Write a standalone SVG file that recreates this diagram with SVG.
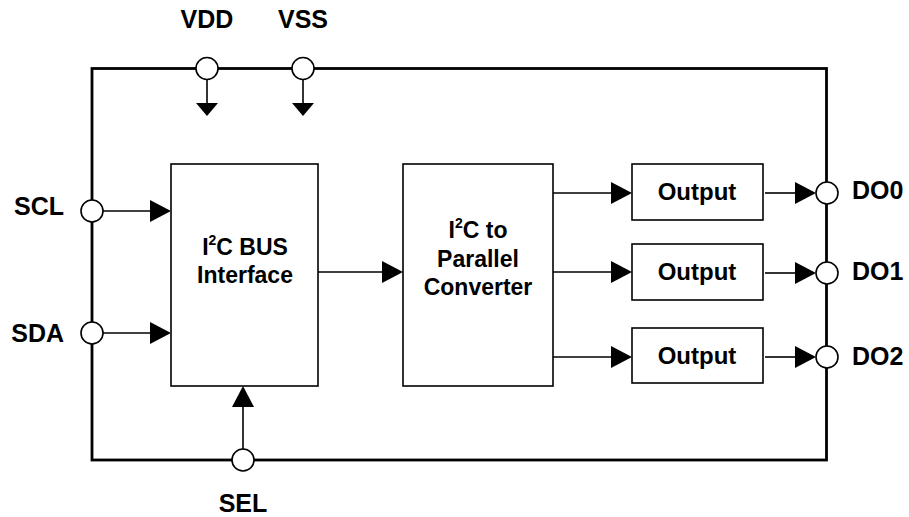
<svg xmlns="http://www.w3.org/2000/svg" width="909" height="517" viewBox="0 0 909 517">
<defs>
<style>
text{font-family:"Liberation Sans",Arial,sans-serif;font-weight:bold;font-size:23px;fill:#000}
.lbl{font-size:25px}
.out{font-size:24px}
.box{fill:#fff;stroke:#000;stroke-width:1.6}
.pin{fill:#fff;stroke:#000;stroke-width:1.6}
.ln{stroke:#000;stroke-width:1.6;fill:none}
.ah{fill:#000;stroke:none}
</style>
</defs>
<rect width="909" height="517" fill="#fff"/>
<g id="chip">
<rect x="92" y="68.5" width="734.5" height="391.5" fill="none" stroke="#000" stroke-width="2.8"/>
</g>
<g id="connectors">
<line class="ln" x1="207" y1="79" x2="207" y2="104"/>
<polygon class="ah" points="196,103 218,103 207,116"/>
<line class="ln" x1="303" y1="79" x2="303" y2="104"/>
<polygon class="ah" points="292,103 314,103 303,116"/>
<line class="ln" x1="103" y1="211" x2="152" y2="211"/>
<polygon class="ah" points="150,200 171,211 150,222"/>
<line class="ln" x1="103" y1="333" x2="152" y2="333"/>
<polygon class="ah" points="150,322 171,333 150,344"/>
<line class="ln" x1="243" y1="449" x2="243" y2="405"/>
<polygon class="ah" points="232,407 254,407 243,386"/>
<line class="ln" x1="318" y1="272" x2="384" y2="272"/>
<polygon class="ah" points="382,261 403,272 382,283"/>
<line class="ln" x1="553" y1="193" x2="613" y2="193"/>
<polygon class="ah" points="611,182 632,193 611,204"/>
<line class="ln" x1="553" y1="272" x2="613" y2="272"/>
<polygon class="ah" points="611,261 632,272 611,283"/>
<line class="ln" x1="553" y1="357" x2="613" y2="357"/>
<polygon class="ah" points="611,346 632,357 611,368"/>
<line class="ln" x1="765" y1="193" x2="797" y2="193"/>
<polygon class="ah" points="795,182 816,193 795,204"/>
<line class="ln" x1="765" y1="273" x2="797" y2="273"/>
<polygon class="ah" points="795,262 816,273 795,284"/>
<line class="ln" x1="765" y1="357" x2="797" y2="357"/>
<polygon class="ah" points="795,346 816,357 795,368"/>
</g>
<g id="pin-vdd"><circle class="pin" cx="207" cy="68.5" r="11"/><text class="lbl" x="207" y="28" text-anchor="middle">VDD</text></g>
<g id="pin-vss"><circle class="pin" cx="303" cy="68.5" r="11"/><text class="lbl" x="303" y="28" text-anchor="middle">VSS</text></g>
<g id="pin-scl"><circle class="pin" cx="92" cy="211" r="11"/><text class="lbl" x="64" y="215" text-anchor="end">SCL</text></g>
<g id="pin-sda"><circle class="pin" cx="92" cy="333" r="11"/><text class="lbl" x="64" y="342" text-anchor="end">SDA</text></g>
<g id="pin-sel"><circle class="pin" cx="243" cy="460" r="11"/><text class="lbl" x="243" y="512" text-anchor="middle">SEL</text></g>
<g id="pin-do0"><circle class="pin" cx="827" cy="193" r="11"/><text class="lbl" x="852" y="199">DO0</text></g>
<g id="pin-do1"><circle class="pin" cx="827" cy="273" r="11"/><text class="lbl" x="852" y="280">DO1</text></g>
<g id="pin-do2"><circle class="pin" cx="827" cy="357" r="11"/><text class="lbl" x="852" y="365">DO2</text></g>
<g id="i2c-bus-interface">
<rect class="box" x="171" y="164" width="147" height="222"/>
<text x="245" y="255" text-anchor="middle">I<tspan font-size="14" dy="-10">2</tspan><tspan dy="10">C BUS</tspan></text>
<text x="245" y="283" text-anchor="middle">Interface</text>
</g>
<g id="converter">
<rect class="box" x="403" y="164" width="150" height="222"/>
<text x="478" y="238" text-anchor="middle">I<tspan font-size="14" dy="-10">2</tspan><tspan dy="10">C to</tspan></text>
<text x="478" y="267" text-anchor="middle">Parallel</text>
<text x="478" y="295" text-anchor="middle">Converter</text>
</g>
<g id="output0"><rect class="box" x="632" y="164" width="131" height="56"/><text class="out" x="697" y="200" text-anchor="middle">Output</text></g>
<g id="output1"><rect class="box" x="632" y="244" width="131" height="56"/><text class="out" x="697" y="280" text-anchor="middle">Output</text></g>
<g id="output2"><rect class="box" x="632" y="328" width="131" height="55"/><text class="out" x="697" y="364" text-anchor="middle">Output</text></g>
</svg>
